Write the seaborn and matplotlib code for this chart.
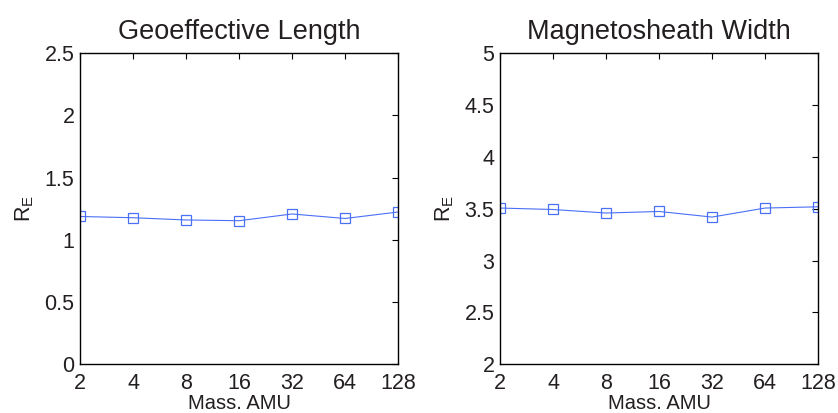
import matplotlib
matplotlib.use("Agg")
import matplotlib.pyplot as plt
import seaborn as sns
import pandas as pd
from matplotlib.ticker import FixedLocator, FixedFormatter, NullLocator

mass = [2, 4, 8, 16, 32, 64, 128]
geo_length = [1.188, 1.178, 1.160, 1.154, 1.208, 1.172, 1.224]
msh_width = [3.507, 3.493, 3.459, 3.474, 3.420, 3.507, 3.519]

titles = ["Geoeffective Length", "Magnetosheath Width"]
ylims = [(0, 2.5), (2, 5)]
yticks = [[0, 0.5, 1, 1.5, 2, 2.5], [2, 2.5, 3, 3.5, 4, 4.5, 5]]
ytlabels = [["0", "0.5", "1", "1.5", "2", "2.5"], ["2", "2.5", "3", "3.5", "4", "4.5", "5"]]

sns.set_style("white")
plt.rcParams['font.family'] = ['Liberation Sans', 'DejaVu Sans']
txt = '#231f20'
line_c = '#4a70f5'

fig = plt.figure(figsize=(8.38, 4.13), dpi=100)
axes = [fig.add_axes([0.0955, 0.118, 0.3795, 0.753]),
        fig.add_axes([0.5967, 0.118, 0.3795, 0.753])]

for ax, vals, title, yl, yt, ytl in zip(axes, [geo_length, msh_width], titles, ylims, yticks, ytlabels):
    df = pd.DataFrame({"mass": mass, "val": vals})
    sns.lineplot(data=df, x="mass", y="val", ax=ax, color=line_c, linewidth=0.8,
                 marker='s', markersize=7, markerfacecolor='none',
                 markeredgecolor=line_c, markeredgewidth=0.9)
    ax.set_xscale('log', base=2)
    ax.set_xlim(2, 128)
    ax.set_ylim(*yl)
    ax.xaxis.set_major_locator(FixedLocator(mass))
    ax.xaxis.set_major_formatter(FixedFormatter([str(m) for m in mass]))
    ax.xaxis.set_minor_locator(NullLocator())
    ax.set_yticks(yt)
    ax.set_yticklabels(ytl)
    ax.tick_params(direction='in', top=True, right=True, length=4, width=0.8,
                   labelsize=15.5, colors='black', labelcolor=txt, pad=4)
    ax.tick_params(axis='x', pad=6)
    for s in ax.spines.values():
        s.set_visible(True)
        s.set_color('black')
        s.set_linewidth(1.0)
    ax.set_title(title, fontsize=19.5, color=txt, pad=10)
    ax.set_xlabel("Mass. AMU", fontsize=14.5, color=txt, labelpad=0)
    ax.set_ylabel(r"$\mathregular{R_E}$", fontsize=15.5, color=txt, labelpad=6)
    ax.grid(False)

fig.savefig("out.png", dpi=100)
